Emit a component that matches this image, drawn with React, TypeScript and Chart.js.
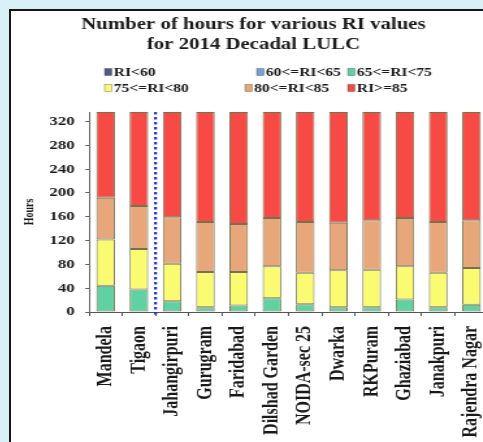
import React, { useEffect, useRef } from "react";
import { Chart, registerables } from "chart.js";

Chart.register(...registerables);

// Locations (2014 decadal LULC run)
const locations = [
  "Mandela",
  "Tigaon",
  "Jahangirpuri",
  "Gurugram",
  "Faridabad",
  "Dilshad Garden",
  "NOIDA-sec 25",
  "Dwarka",
  "RKPuram",
  "Ghaziabad",
  "Janakpuri",
  "Rajendra Nagar",
];

// Hours spent in each relative-humidity (RI) class
const riBelow60 = [0, 0, 0, 0, 0, 0, 0, 0, 0, 0, 0, 0];
const ri60to65 = [0, 0, 0, 0, 0, 0, 0, 0, 0, 0, 0, 0];
const ri65to75 = [44, 38, 18, 8, 11, 23, 13, 8, 8, 21, 8, 12];
const ri75to80 = [78, 68, 63, 59, 56, 54, 53, 62, 63, 56, 58, 62];
const ri80to85 = [70, 72, 78, 84, 81, 81, 85, 80, 83, 81, 85, 80];
const riAbove85 = [144, 158, 177, 185, 188, 178, 185, 186, 182, 178, 185, 182];

const seriesLabels = ["RI<60", "60<=RI<65", "65<=RI<75", "75<=RI<80", "80<=RI<85", "RI>=85"];
const seriesColors = ["#4d5a8c", "#6fa3dc", "#5fd1a3", "#fbfb72", "#e8a77b", "#f84a45"];
const hourTicks = [0, 40, 80, 120, 160, 200, 240, 280, 320];
const hourMax = 336;

const titleLines = ["Number of hours for various RI values", "for 2014 Decadal LULC"];

// the figure is drawn narrow and widened with a horizontal stretch
const STRETCH = 1.3;
const W = 367;
const H = 431;
const FONT = "'Liberation Serif', 'Times New Roman', serif";

// legend slots [x, y] in canvas units, one per series
const legendSlots: [number, number][] = [
  [72, 61],
  [189, 61],
  [259, 61],
  [72, 77],
  [180, 77],
  [259, 77],
];

const gridLegend = {
  id: "gridLegend",
  afterDraw(chart: any) {
    const ctx = chart.ctx as CanvasRenderingContext2D;
    ctx.save();
    ctx.font = `bold 12px ${FONT}`;
    ctx.textBaseline = "middle";
    ctx.textAlign = "left";
    chart.data.datasets.forEach((ds: any, i: number) => {
      const [x, y] = legendSlots[i];
      ctx.fillStyle = ds.backgroundColor;
      ctx.fillRect(x, y - 3.5, 5.5, 7);
      ctx.strokeStyle = "rgba(70,70,50,0.6)";
      ctx.lineWidth = 0.6;
      ctx.strokeRect(x, y - 3.5, 5.5, 7);
      ctx.fillStyle = "#1a1a1a";
      ctx.fillText(ds.label, x + 7, y + 0.5);
    });
    ctx.restore();
  },
};

// dotted divider between the first two sites and the rest
const siteDivider = {
  id: "siteDivider",
  afterDatasetsDraw(chart: any) {
    const ctx = chart.ctx as CanvasRenderingContext2D;
    const xs = chart.scales.x;
    const x = (xs.getPixelForValue(1) + xs.getPixelForValue(2)) / 2;
    const { top, bottom } = chart.chartArea;
    ctx.save();
    ctx.strokeStyle = "#2030e0";
    ctx.lineWidth = 2.2;
    ctx.setLineDash([2.5, 2.5]);
    ctx.beginPath();
    ctx.moveTo(x, top);
    ctx.lineTo(x, bottom + 3);
    ctx.stroke();
    ctx.restore();
  },
};

export default function App() {
  const ref = useRef<HTMLCanvasElement>(null);

  useEffect(() => {
    const seriesData = [riBelow60, ri60to65, ri65to75, ri75to80, ri80to85, riAbove85];
    const chart = new Chart(ref.current as HTMLCanvasElement, {
      type: "bar",
      data: {
        labels: locations,
        datasets: seriesData.map((d, i) => ({
          label: seriesLabels[i],
          data: d,
          backgroundColor: seriesColors[i],
          borderColor: "rgba(90,90,50,0.85)",
          borderWidth: 1,
          borderSkipped: false,
          barPercentage: 0.56,
          categoryPercentage: 1,
        })),
      },
      options: {
        animation: false,
        responsive: false,
        events: [],
        layout: { padding: { left: 6, right: 0, top: 0, bottom: 0 } },
        plugins: {
          legend: { display: false },
          tooltip: { enabled: false },
          title: {
            display: true,
            text: titleLines,
            color: "#1a1a1a",
            font: { family: FONT, size: 16, weight: "bold", lineHeight: 1.25 },
            padding: { top: 4, bottom: 57 },
          },
        },
        scales: {
          x: {
            stacked: true,
            afterFit: (s: any) => {
              s.height = H - 301;
              s.paddingLeft = 0;
              s.paddingRight = 0;
            },
            grid: {
              display: true,
              offset: true,
              drawOnChartArea: false,
              drawTicks: true,
              tickLength: 4,
              color: "#555",
            },
            border: { display: true, color: "#555", width: 1 },
            ticks: {
              autoSkip: false,
              minRotation: 90,
              maxRotation: 90,
              padding: 10,
              color: "#1a1a1a",
              font: { family: FONT, size: 16, weight: "bold" },
            },
          },
          y: {
            stacked: true,
            min: 0,
            max: hourMax,
            afterFit: (s: any) => {
              s.width = 54;
            },
            afterBuildTicks: (s: any) => {
              s.ticks = hourTicks.map((v) => ({ value: v }));
            },
            grid: {
              display: true,
              drawOnChartArea: false,
              drawTicks: true,
              tickLength: 3,
              color: "#666",
            },
            border: { display: true, color: "#666", width: 1 },
            ticks: {
              padding: 8,
              color: "#1a1a1a",
              font: { family: FONT, size: 13, weight: "bold" },
            },
            title: {
              display: true,
              text: "Hours",
              color: "#1a1a1a",
              font: { family: FONT, size: 10, weight: "bold" },
              padding: { top: 2, bottom: 12 },
            },
          },
        },
      },
      plugins: [gridLegend, siteDivider],
    } as any);
    return () => chart.destroy();
  }, []);

  return (
    <div
      style={{
        position: "fixed",
        left: 0,
        top: 0,
        width: 483,
        height: 442,
        overflow: "hidden",
        background: "#d8f1f7",
      }}
    >
      <div
        style={{
          position: "absolute",
          left: 9,
          top: 9,
          width: 520,
          height: 480,
          background: "#ffffff",
          borderLeft: "2px solid #161616",
          borderTop: "2px solid #161616",
        }}
      >
        <div
          style={{
            position: "absolute",
            left: 0,
            top: 0,
            width: W,
            height: H,
            transform: `scaleX(${STRETCH})`,
            transformOrigin: "0 0",
          }}
        >
          <canvas ref={ref} width={W} height={H} style={{ display: "block" }} />
        </div>
      </div>
    </div>
  );
}
